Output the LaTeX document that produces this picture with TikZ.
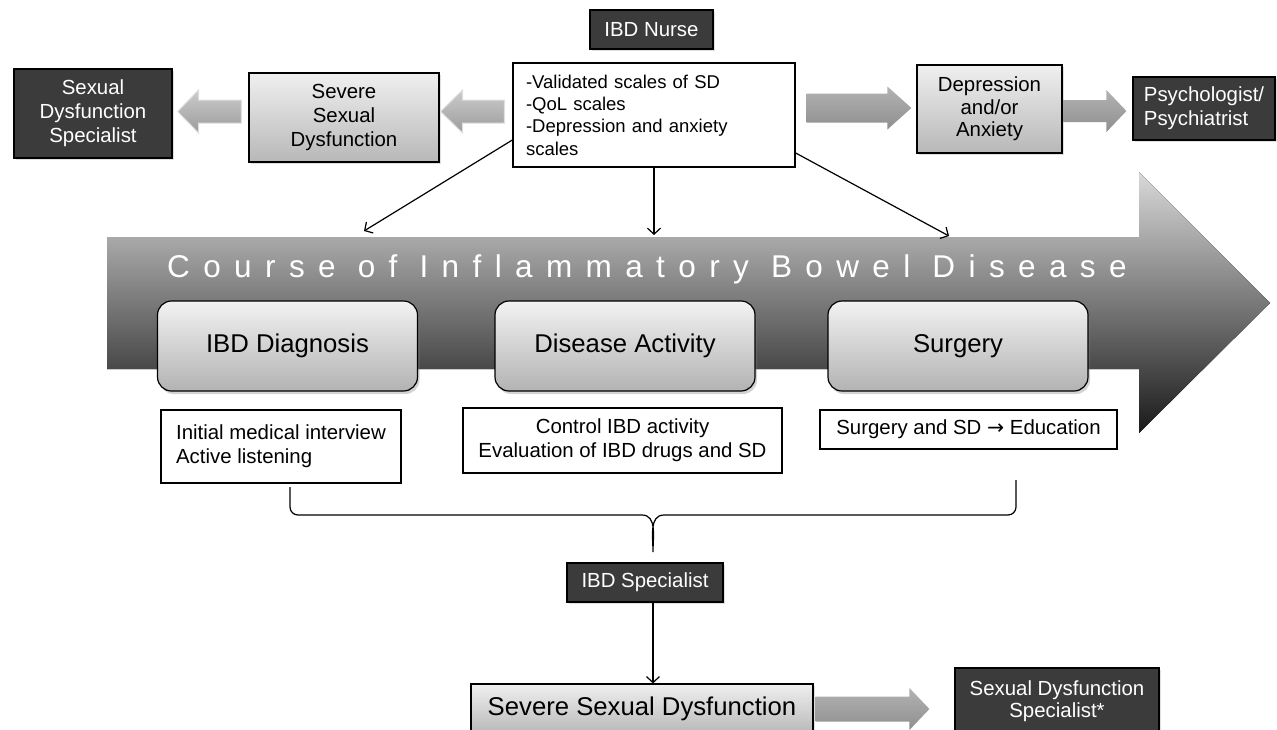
\documentclass[tikz,border=0pt]{standalone}
\usepackage{fontspec}
\setmainfont{Liberation Sans}
\newfontfamily\trackfont[LetterSpace=42.5]{Liberation Sans}
\newfontfamily\symfont{DejaVu Sans}
\usetikzlibrary{calc,shadows,arrows.meta}

\definecolor{darkbox}{HTML}{3B3B3B}
\newcommand{\boxfont}{\fontsize{20.4}{24}\selectfont}
\newcommand{\stagefont}{\fontsize{25.7}{30}\selectfont}

% fat shaded arrow: style, tail, tip, shaft half, head half, head length
\newcommand{\fatarrow}[6]{%
  \path[#1] let \p1=(#2), \p2=(#3), \n1={sign(\x2-\x1)} in
    (\x1,\y1+#4) -- (\x2-\n1*#6,\y1+#4) -- (\x2-\n1*#6,\y1+#5) -- (\x2,\y1)
    -- (\x2-\n1*#6,\y1-#5) -- (\x2-\n1*#6,\y1-#4) -- (\x1,\y1-#4) -- cycle;}

\begin{document}
\begin{tikzpicture}[x=1pt,y=-1pt,
	dark/.style={draw=black, line width=1.2pt, fill=darkbox, text=white, font=\boxfont, align=center, inner sep=0pt,
		drop shadow={shadow xshift=1.5pt, shadow yshift=-2pt, opacity=0.25}},
	light/.style={draw=black, line width=1.2pt, top color=white!94!black, bottom color=white!72!black, font=\boxfont, align=center, inner sep=0pt,
		drop shadow={shadow xshift=1.5pt, shadow yshift=-2pt, opacity=0.25}},
	stage/.style={draw=black, line width=1.2pt, rounded corners=14pt, top color=white!95!black, bottom color=white!70!black, font=\stagefont,
		minimum width=260pt, minimum height=90pt, drop shadow={shadow xshift=2pt, shadow yshift=-3pt, opacity=0.35}},
	note/.style={draw=black, line width=1.2pt, fill=white, font=\boxfont, inner sep=0pt},
	thinarr/.style={line width=1.2pt, -{Straight Barb[length=6pt,width=13pt]}},
	lightfat/.style={top color=gray!40, middle color=gray!55, bottom color=gray!78, draw=white!75!gray, line width=1pt},
	darkfat/.style={top color=gray!60, middle color=gray!40, bottom color=gray!88},
]

	\useasboundingbox (0,0) rectangle (1277,729);
	\clip (0,0) rectangle (1277,729);

	% course arrow
	\fill[top color=white!85!black, middle color=white!55!black, bottom color=white!10!black]
		(107,237) -- (1139,237) -- (1139,172) -- (1270,303) -- (1139,433) -- (1139,369) -- (107,369) -- cycle;
	\node[anchor=base west, text=white, font={\trackfont\fontsize{31.5}{36}\selectfont}, inner sep=0pt] (title) at (167,277) {Course of Inflammatory Bowel Disease};

	\node[stage] (diag) at (287.5,346) {IBD Diagnosis};
	\node[stage] (activ) at (625,346) {Disease Activity};
	\node[stage] (surg) at (958,346) {Surgery};

	% top row
	\node[dark, minimum width=123pt, minimum height=39pt] (nurse) at (651.5,29.5) {IBD Nurse};
	\node[note, minimum width=282pt, minimum height=104pt, text width=256pt, align=left, font=\fontsize{18.5}{22.3}\selectfont] (scales) at (654,115)
		{-Validated scales of SD\\-QoL scales\\-Depression and anxiety\\scales};
	\node[light, minimum width=190pt, minimum height=89pt] (sevtop) at (344,117.5) {Severe\\Sexual\\Dysfunction};
	\node[dark, minimum width=158pt, minimum height=89pt] (sdsl) at (93,113.5) {Sexual\\Dysfunction\\Specialist};
	\node[light, minimum width=145pt, minimum height=88pt, font=\fontsize{20.4}{22.5}\selectfont] (depr) at (989.5,109) {Depression\\and/or\\Anxiety};
	\node[dark, minimum width=142pt, minimum height=63pt, align=left] (psych) at (1204,108.5) {Psychologist/\\Psychiatrist};

	\fatarrow{lightfat}{[xshift=-8pt,yshift=3.5pt]scales.west}{[xshift=1pt]sevtop.east}{11.5}{21.5}{22}
	\fatarrow{lightfat}{[xshift=-7pt,yshift=6pt]sevtop.west}{[xshift=5pt]sdsl.east}{11.5}{21.5}{21}
	\fatarrow{darkfat}{[xshift=11pt,yshift=7pt]scales.east}{[xshift=-5pt]depr.west}{14.5}{21.5}{24}
	\fatarrow{darkfat}{[xshift=1pt,yshift=-2pt]depr.east}{[xshift=-6pt]psych.west}{11}{21}{20}

	\coordinate (t1) at (364,231);
	\coordinate (t2) at (654,235);
	\coordinate (t3) at (949,236);
	\draw[thinarr] (scales.190) -- (t1);
	\draw[thinarr] (scales.south) -- (t2);
	\draw[thinarr] (scales.-15) -- (t3);

	% notes under the stages
	\node[note, minimum width=240pt, minimum height=73pt, align=left] (note1) at (281,446.5) {Initial medical interview\\Active listening};
	\node[note, minimum width=319pt, minimum height=65pt, align=center] (note2) at (622.5,440.5) {Control IBD activity\\Evaluation of IBD drugs and SD};
	\node[note, minimum width=297pt, minimum height=39pt] (note3) at (968.5,429.5) {Surgery and SD {\symfont →} Education};

	\draw[line width=1.2pt] (290,487) -- (290,507) to[out=-90,in=180] (298,515) -- (642,515) to[out=0,in=90] (653,552)
		to[out=90,in=180] (664,515) -- (1008,515) to[out=0,in=-90] (1016,507) -- (1016,480);

	% bottom row
	\node[dark, minimum width=156pt, minimum height=39pt] (spec) at (645,582.5) {IBD Specialist};
	\node[light, minimum width=342pt, minimum height=50pt, font=\stagefont] (sevbot) at (642,709) {Severe Sexual Dysfunction};
	\node[dark, minimum width=204pt, minimum height=66pt, font=\fontsize{20.4}{22}\selectfont] (sdsb) at (1057,701) {Sexual Dysfunction\\Specialist*};

	\coordinate (sp) at ([xshift=8pt]spec.south);
	\draw[thinarr] (sp) -- (sp |- sevbot.north);
	\fatarrow{darkfat}{[xshift=2pt]sevbot.east}{[xshift=-25pt]sdsb.west}{12.5}{21}{20}

\end{tikzpicture}
\end{document}
